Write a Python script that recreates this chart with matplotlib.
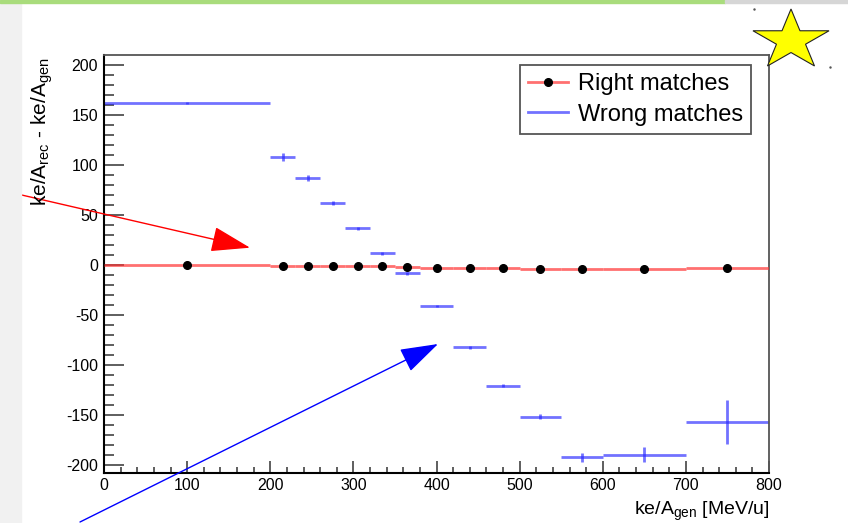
import numpy as np
import matplotlib.pyplot as plt
from matplotlib.lines import Line2D
from matplotlib.patches import Rectangle, Polygon

plt.rcParams['font.family'] = ['Liberation Sans', 'DejaVu Sans']
plt.rcParams['mathtext.fontset'] = 'custom'
plt.rcParams['mathtext.rm'] = 'Liberation Sans'
plt.rcParams['mathtext.it'] = 'Liberation Sans'
plt.rcParams['axes.unicode_minus'] = False

# ke/A_gen bin edges [MeV/u]
bin_edges = [0, 200, 230, 260, 290, 320, 350, 380, 420, 460, 500, 550, 600, 700, 800]

# mean of ke/A_rec - ke/A_gen per bin
right_vals = [-0.4, -0.8, -0.9, -1.4, -1.1, -1.4, -1.6, -3.0, -3.1, -3.0, -3.6, -3.7, -3.6, -3.3]
right_errs = [0.3, 0.3, 0.3, 0.3, 0.3, 0.3, 0.3, 0.3, 0.3, 0.3, 0.3, 0.3, 0.3, 0.3]
wrong_vals = [162, 108, 87, 62, 37, 12, -8, -40.5, -82, -120.5, -151.5, -192, -189.5, -157]
wrong_errs = [1, 4, 3, 2, 1.5, 1.5, 1.5, 1, 1.5, 1.5, 2.5, 4.5, 7.5, 22]

W, H = 848, 523


def px(x, y):
    # pixel position (from top-left) -> figure fraction
    return x / W, 1 - y / H


edges = np.array(bin_edges, dtype=float)
centers = 0.5 * (edges[1:] + edges[:-1])
half_w = 0.5 * (edges[1:] - edges[:-1])

fig = plt.figure(figsize=(W / 100, H / 100), dpi=100)
ax = fig.add_axes([104 / W, 1 - 473 / H, 665 / W, 418 / H])

# frame decorations around the canvas
fig.patches.append(Rectangle(px(0, 523), 21 / W, 520 / H, transform=fig.transFigure,
                             color='#f1f1f1', zorder=0))
fig.patches.append(Rectangle(px(0, 3), 725 / W, 3 / H, transform=fig.transFigure,
                             color='#a9dc7c', zorder=0))
fig.patches.append(Rectangle(px(725, 3), 123 / W, 3 / H, transform=fig.transFigure,
                             color='#d6d6d6', zorder=0))

red_c = (1.0, 0.2, 0.2, 0.7)
blue_c = (0.15, 0.15, 1.0, 0.65)

ax.errorbar(centers, wrong_vals, xerr=half_w, yerr=wrong_errs, fmt='none',
            ecolor=blue_c, elinewidth=2, capsize=0, zorder=2)
ax.errorbar(centers, right_vals, xerr=half_w, yerr=right_errs, fmt='o',
            color='black', ms=5.5, ecolor=red_c, elinewidth=2, capsize=0, zorder=3)

ax.set_xlim(0, 800)
ax.set_ylim(-208, 210)
ax.set_xticks(np.arange(0, 801, 100))
ax.set_xticks(np.arange(0, 801, 20), minor=True)
ax.set_yticks(np.arange(-200, 201, 50))
ax.set_yticks(np.arange(-200, 201, 10), minor=True)

ax.tick_params(axis='both', which='both', direction='in', colors='#333333',
               labelcolor='black', labelsize=11.5, width=1.1)
ax.tick_params(axis='y', which='major', length=14.4, pad=4.3)
ax.tick_params(axis='y', which='minor', length=7.2)
ax.tick_params(axis='x', which='major', length=8.6, pad=3.6)
ax.tick_params(axis='x', which='minor', length=4.3)
ax.tick_params(top=False, right=False, which='both')

for side in ['left', 'bottom']:
    ax.spines[side].set_color('black')
    ax.spines[side].set_linewidth(1.5)
for side in ['top', 'right']:
    ax.spines[side].set_color('#555555')
    ax.spines[side].set_linewidth(1.3)

fig.text(*px(770, 515), r'ke/A$_{\rm gen}$ [MeV/u]', ha='right', va='baseline', fontsize=14)
fig.text(*px(42, 57), r'ke/A$_{\rm rec}$ - ke/A$_{\rm gen}$', rotation=90,
         ha='center', va='top', fontsize=15)

handles = [Line2D([], [], color=red_c, lw=2, marker='o', mfc='black', mec='black', ms=5.5),
           Line2D([], [], color=blue_c, lw=2)]
leg = ax.legend(handles, ['Right matches', 'Wrong matches'], loc='upper left',
                bbox_to_anchor=px(520, 65), bbox_transform=fig.transFigure,
                fontsize=17, handlelength=1.7, handletextpad=0.4, borderpad=0.35,
                labelspacing=0.35, borderaxespad=0, fancybox=False, framealpha=1)
leg.get_frame().set_edgecolor('#555555')
leg.get_frame().set_linewidth(1.3)

# annotation arrows
ax.annotate('', xy=px(250, 247.7), xytext=px(0, 190), xycoords='figure fraction',
            textcoords='figure fraction', annotation_clip=False,
            arrowprops=dict(arrowstyle='-|>,head_length=1.24,head_width=0.4',
                            mutation_scale=20, color='red', lw=1,
                            shrinkA=0, shrinkB=0))
ax.annotate('', xy=px(438, 344), xytext=px(80, 522), xycoords='figure fraction',
            textcoords='figure fraction', annotation_clip=False,
            arrowprops=dict(arrowstyle='-|>,head_length=1.2,head_width=0.39',
                            mutation_scale=20, color='blue', lw=1,
                            shrinkA=0, shrinkB=0))

# yellow star marker
ang = np.pi / 2 + np.arange(10) * np.pi / 5
rad = np.where(np.arange(10) % 2 == 0, 1.0, 0.382)
star = [px(791 + 40 * r * np.cos(a), 40.5 - 31.5 * r * np.sin(a)) for r, a in zip(rad, ang)]
fig.patches.append(Polygon(star, closed=True, transform=fig.transFigure,
                           facecolor='#ffff00', edgecolor='#222222', lw=0.8, zorder=5))
fig.add_artist(Line2D([px(754, 9)[0], px(830, 67)[0]], [px(754, 9)[1], px(830, 67)[1]],
                      transform=fig.transFigure, ls='none', marker='.', ms=1.5,
                      color='#555555'))

fig.savefig('out.png', dpi=100)
